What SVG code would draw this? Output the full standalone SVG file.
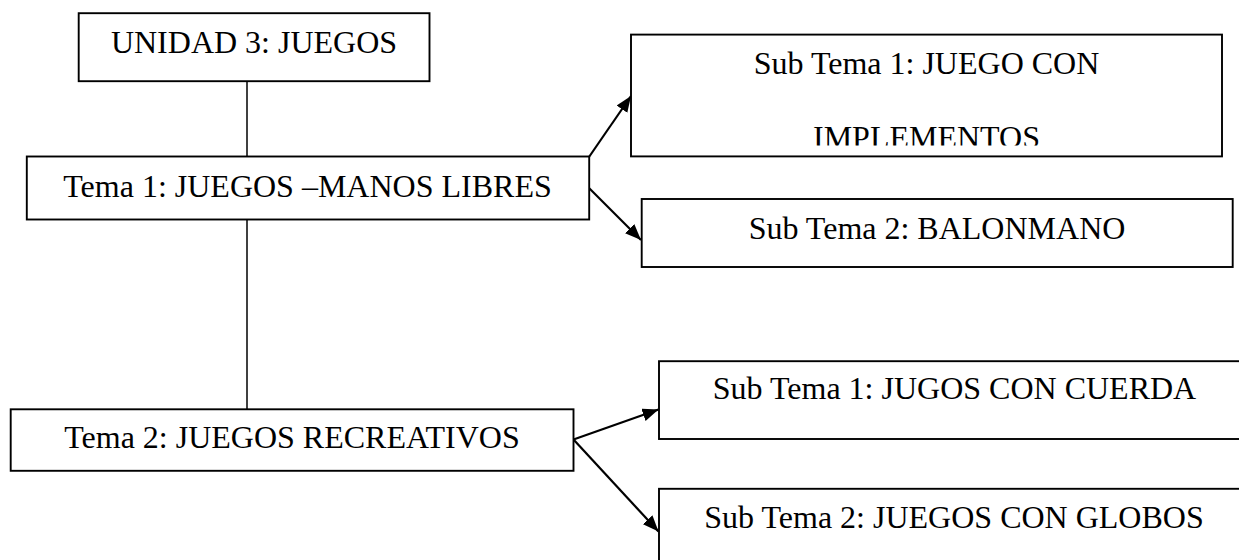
<svg xmlns="http://www.w3.org/2000/svg" width="1239" height="560" viewBox="0 0 1239 560">
<style>
.box{fill:#fff;stroke:#000;stroke-width:1.9}
.lbl{font-family:"Liberation Serif","Times New Roman",serif;font-size:32px;fill:#000;text-anchor:middle}
.line{stroke:#000;stroke-width:1.5;fill:none}
.arr{stroke:#000;stroke-width:2.2;fill:none;marker-end:url(#ah)}
</style>
<defs>
<marker id="ah" markerUnits="userSpaceOnUse" markerWidth="17" markerHeight="13" refX="16" refY="6.5" orient="auto">
<path d="M0,0 L16,6.5 L0,13 z" fill="#000"/>
</marker>
<clipPath id="clipImpl"><rect x="631" y="35" width="591" height="110.5"/></clipPath>
</defs>
<rect width="1239" height="560" fill="#fff"/>
<g id="connectors">
<line class="line" x1="247" y1="81" x2="247" y2="156.5"/>
<line class="line" x1="247" y1="219.5" x2="247" y2="409"/>
<line class="arr" x1="589" y1="157" x2="631" y2="96"/>
<line class="arr" x1="589" y1="188" x2="641" y2="240"/>
<line class="arr" x1="573.5" y1="439.5" x2="658.5" y2="409.5"/>
<line class="arr" x1="573.5" y1="439.5" x2="658.5" y2="531.5"/>
</g>
<g id="unidad">
<rect class="box" x="78.7" y="13.2" width="350.8" height="68"/>
<text class="lbl" x="254" y="53">UNIDAD 3: JUEGOS</text>
</g>
<g id="tema1">
<rect class="box" x="26.8" y="156.5" width="562.4" height="63"/>
<text class="lbl" x="307.5" y="197">Tema 1: JUEGOS –MANOS LIBRES</text>
</g>
<g id="tema2">
<rect class="box" x="10.7" y="409.3" width="562.8" height="61.5"/>
<text class="lbl" x="292" y="448">Tema 2: JUEGOS RECREATIVOS</text>
</g>
<g id="subtema1-implementos">
<rect class="box" x="631" y="34.6" width="591" height="121.8"/>
<g clip-path="url(#clipImpl)">
<text class="lbl" x="926.5" y="74.3">Sub Tema 1: JUEGO CON</text>
<text class="lbl" x="926.5" y="148">IMPLEMENTOS</text>
</g>
</g>
<g id="subtema2-balonmano">
<rect class="box" x="641.7" y="199" width="591" height="68"/>
<text class="lbl" x="937" y="238.6">Sub Tema 2: BALONMANO</text>
</g>
<g id="subtema1-cuerda">
<rect class="box" x="659" y="361.2" width="592" height="77.8"/>
<text class="lbl" x="954.5" y="399.3">Sub Tema 1: JUGOS CON CUERDA</text>
</g>
<g id="subtema2-globos">
<rect class="box" x="659" y="488.8" width="592" height="80"/>
<text class="lbl" x="954" y="528">Sub Tema 2: JUEGOS CON GLOBOS</text>
</g>
</svg>
